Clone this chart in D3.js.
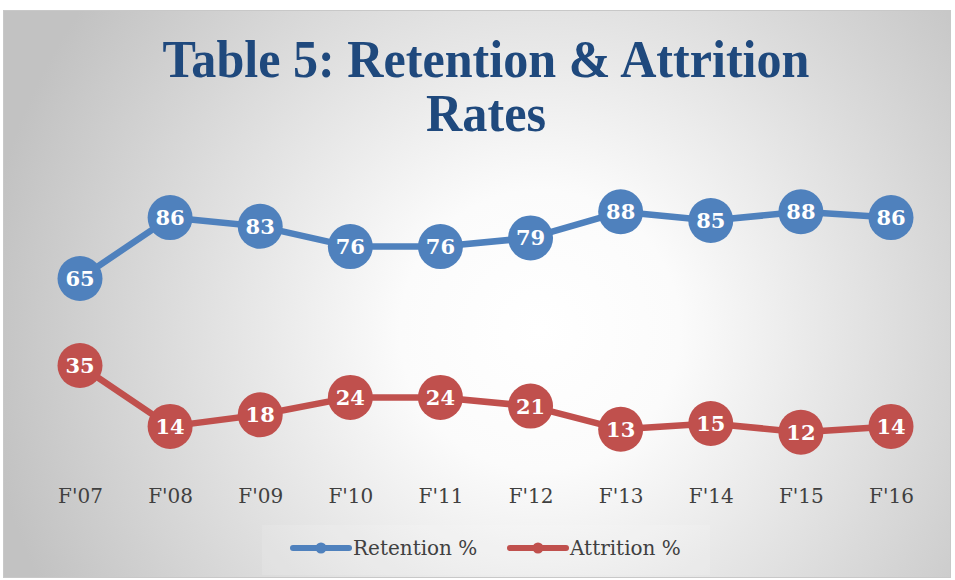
<!DOCTYPE html>
<html>
<head>
<meta charset="utf-8">
<script src="https://cdn.jsdelivr.net/npm/d3@7"></script>
<style>
  body { margin: 0; background: #fff; }
  svg { display: block; }
</style>
</head>
<body>
<div id="chart"></div>
<script>
var width = 955, height = 580;

// data
var years = ["F'07", "F'08", "F'09", "F'10", "F'11", "F'12", "F'13", "F'14", "F'15", "F'16"];
var retention = [65, 86, 83, 76, 76, 79, 88, 85, 88, 86];
var attrition = [35, 14, 18, 24, 24, 21, 13, 15, 12, 14];
var seriesNames = ["Retention %", "Attrition %"];
var colors = ["#4f81bd", "#c0504d"];

var svg = d3.select("#chart").append("svg")
    .attr("width", width)
    .attr("height", height);

var defs = svg.append("defs");
var grad = defs.append("radialGradient")
    .attr("id", "bg")
    .attr("gradientUnits", "userSpaceOnUse")
    .attr("cx", 540).attr("cy", 330).attr("r", 560);
grad.append("stop").attr("offset", "0%").attr("stop-color", "#ffffff");
grad.append("stop").attr("offset", "25%").attr("stop-color", "#fbfbfb");
grad.append("stop").attr("offset", "100%").attr("stop-color", "#c2c2c2");

// chart frame
svg.append("rect")
    .attr("x", 3.5).attr("y", 10.5)
    .attr("width", 947).attr("height", 567)
    .attr("fill", "url(#bg)")
    .attr("stroke", "#c8c8c8");

// title
var title = svg.append("g")
    .attr("font-family", "'Liberation Serif', serif")
    .attr("font-weight", "bold")
    .attr("fill", "#1f497d")
    .attr("text-anchor", "middle");
title.append("text")
    .attr("x", 486).attr("y", 77)
    .attr("font-size", 52)
    .attr("textLength", 647)
    .attr("lengthAdjust", "spacingAndGlyphs")
    .text("Table 5: Retention & Attrition");
title.append("text")
    .attr("x", 486).attr("y", 131)
    .attr("font-size", 52)
    .attr("textLength", 120)
    .attr("lengthAdjust", "spacingAndGlyphs")
    .text("Rates");

var x = d3.scalePoint()
    .domain(years)
    .range([80, 891]);

var y = d3.scaleLinear()
    .domain([0, 100])
    .range([467, 177]);

// category axis labels (no line, no ticks)
var xAxis = svg.append("g")
    .attr("transform", "translate(0,480)")
    .call(d3.axisBottom(x).tickSize(0).tickPadding(0));
xAxis.select(".domain").remove();
xAxis.selectAll("text")
    .attr("dy", 0)
    .attr("y", 23)
    .attr("font-family", "'DejaVu Serif', serif")
    .attr("font-size", 20)
    .attr("fill", "#404040");

var line = d3.line()
    .x(function(d, i) { return x(years[i]); })
    .y(function(d) { return y(d); });

[retention, attrition].forEach(function(vals, s) {
    var g = svg.append("g");
    g.append("path")
        .datum(vals)
        .attr("fill", "none")
        .attr("stroke", colors[s])
        .attr("stroke-width", 6.5)
        .attr("stroke-linejoin", "round")
        .attr("d", line);

    var pts = g.selectAll(".pt")
        .data(vals)
        .enter().append("g")
        .attr("transform", function(d, i) { return "translate(" + x(years[i]) + "," + y(d) + ")"; });
    pts.append("circle")
        .attr("r", 22.5)
        .attr("fill", colors[s]);
    pts.append("text")
        .attr("text-anchor", "middle")
        .attr("dy", "0.36em")
        .attr("font-family", "'DejaVu Serif', serif")
        .attr("font-weight", "bold")
        .attr("font-size", 21)
        .attr("fill", "#ffffff")
        .text(function(d) { return d; });
});

// legend
svg.append("rect")
    .attr("x", 262).attr("y", 525)
    .attr("width", 448).attr("height", 50)
    .attr("fill", "#ffffff")
    .attr("fill-opacity", 0.12);

var legendX = [293, 510];
var legend = svg.selectAll(".legend")
    .data(seriesNames)
    .enter().append("g")
    .attr("transform", function(d, i) { return "translate(" + legendX[i] + ",548)"; });
legend.append("line")
    .attr("x1", 0).attr("x2", 56)
    .attr("stroke", function(d, i) { return colors[i]; })
    .attr("stroke-width", 6)
    .attr("stroke-linecap", "round");
legend.append("circle")
    .attr("cx", 28).attr("r", 5.5)
    .attr("fill", function(d, i) { return colors[i]; });
legend.append("text")
    .attr("x", 60)
    .attr("dy", "0.35em")
    .attr("font-family", "'DejaVu Serif', serif")
    .attr("font-size", 20)
    .attr("fill", "#404040")
    .text(function(d) { return d; });
</script>
</body>
</html>
